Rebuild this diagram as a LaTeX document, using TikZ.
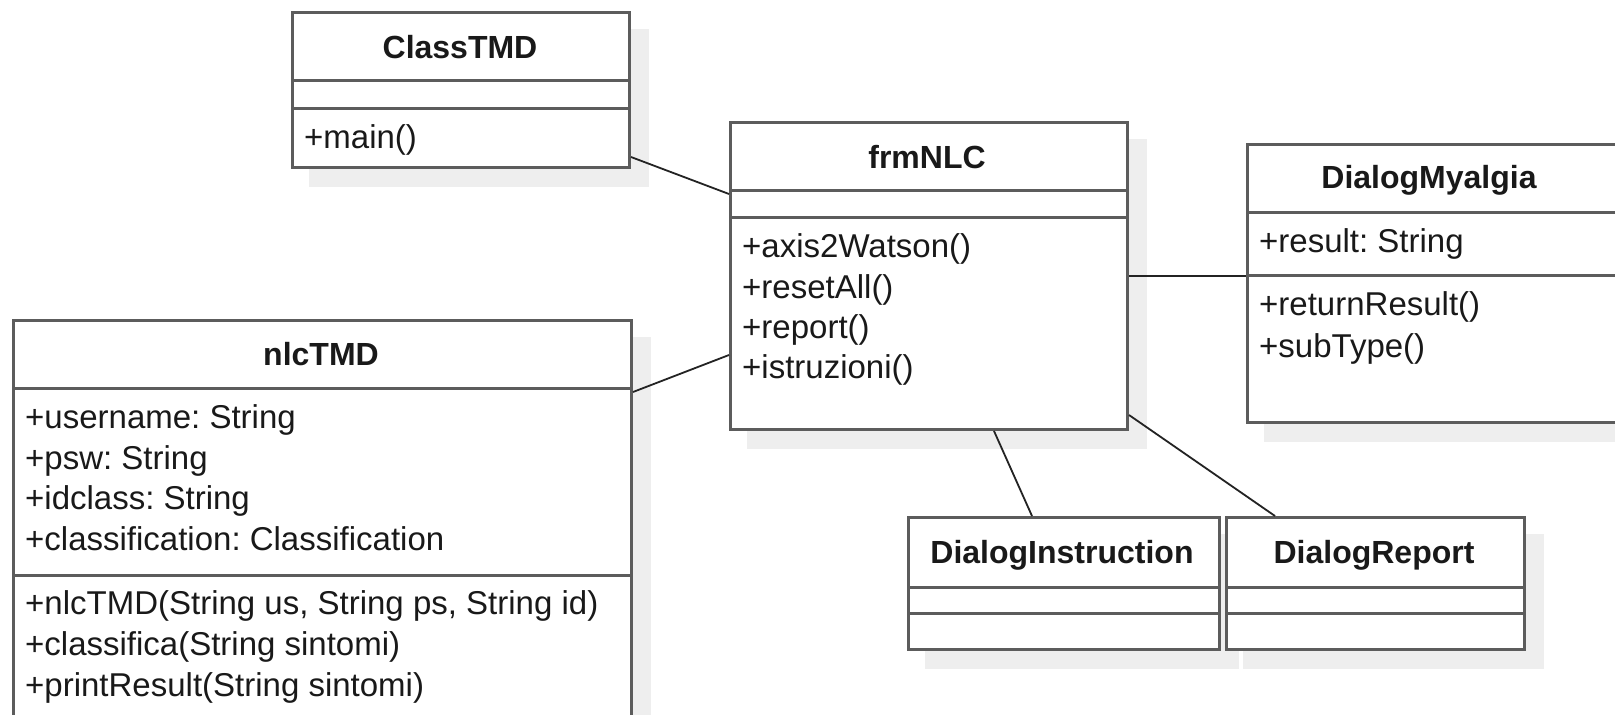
\documentclass[tikz,border=0pt]{standalone}
\usepackage{fontspec}
\setmainfont{Liberation Sans}
\usetikzlibrary{calc,backgrounds}
\definecolor{edgecol}{RGB}{92,92,92}
\definecolor{shadecol}{RGB}{238,238,238}
\definecolor{linkcol}{RGB}{35,35,35}
\tikzset{
  umlbox/.style={draw=edgecol,line width=3pt,fill=white,rectangle,inner sep=0pt,anchor=north west},
  sepline/.style={draw=edgecol,line width=3pt},
  umltitle/.style={font=\fontsize{32}{40}\selectfont\bfseries,inner sep=0pt,anchor=base,text=black!90},
  member/.style={font=\fontsize{33}{40}\selectfont\frenchspacing,inner sep=0pt,anchor=base west,text=black!90},
  link/.style={draw=linkcol,line width=1.8pt},
  shadowbox/.style={fill=shadecol}
}
\begin{document}
\begin{tikzpicture}[x=1pt,y=-1pt]
\clip (0,0) rectangle (1615,715);

% ---------- ClassTMD ----------
\node[umlbox,minimum width=337pt,minimum height=155pt] (cT) at (291,11) {};
\draw[sepline] (291,80) -- (628,80);
\draw[sepline] (291,108) -- (628,108);
\node[umltitle] (cTt) at (460,58) {ClassTMD};
\node[member] (cTm1) at (304,148) {+main()};

% ---------- frmNLC ----------
\node[umlbox,minimum width=397pt,minimum height=307pt] (frm) at (729,121) {};
\draw[sepline] (729,190) -- (1126,190);
\draw[sepline] (729,217) -- (1126,217);
\node[umltitle] (frmt) at (927,168) {frmNLC};
\node[member] (frm1) at (742,257) {+axis2Watson()};
\node[member] (frm2) at (742,298) {+resetAll()};
\node[member] (frm3) at (742,338) {+report()};
\node[member] (frm4) at (742,378) {+istruzioni()};

% ---------- DialogMyalgia ----------
\node[umlbox,minimum width=390pt,minimum height=278pt] (dm) at (1246,143) {};
\draw[sepline] (1246,212) -- (1640,212);
\draw[sepline] (1246,275) -- (1640,275);
\node[umltitle] (dmt) at (1429,188) {DialogMyalgia};
\node[member] (dm1) at (1259,252) {+result: String};
\node[member] (dm2) at (1259,315) {+returnResult()};
\node[member] (dm3) at (1259,357) {+subType()};

% ---------- nlcTMD ----------
\node[umlbox,minimum width=618pt,minimum height=420pt] (nlc) at (12,319) {};
\draw[sepline] (12,388) -- (630,388);
\draw[sepline] (12,575) -- (630,575);
\node[umltitle] (nlct) at (321,365) {nlcTMD};
\node[member] (nlc1) at (25,428) {+username: String};
\node[member] (nlc2) at (25,469) {+psw: String};
\node[member] (nlc3) at (25,509) {+idclass: String};
\node[member] (nlc4) at (25,550) {+classification: Classification};
\node[member] (nlc5) at (25,614) {+nlcTMD(String us, String ps, String id)};
\node[member] (nlc6) at (25,655) {+classifica(String sintomi)};
\node[member] (nlc7) at (25,696) {+printResult(String sintomi)};

% ---------- DialogInstruction ----------
\node[umlbox,minimum width=311pt,minimum height=132pt] (di) at (907,516) {};
\draw[sepline] (907,587) -- (1218,587);
\draw[sepline] (907,613) -- (1218,613);
\node[umltitle] (dit) at (1062,563) {DialogInstruction};

% ---------- DialogReport ----------
\node[umlbox,minimum width=298pt,minimum height=132pt] (dr) at (1225,516) {};
\draw[sepline] (1225,587) -- (1523,587);
\draw[sepline] (1225,613) -- (1523,613);
\node[umltitle] (drt) at (1374,563) {DialogReport};

% ---------- shadows ----------
\begin{scope}[on background layer]
\fill[white] (0,0) rectangle (1615,715);
\foreach \n in {cT,frm,dm,nlc,di,dr}{
  \fill[shadowbox] ([shift={(18,18)}]\n.north west) rectangle ([shift={(18,18)}]\n.south east);
}
\end{scope}

% ---------- connectors ----------
\draw[link] ([yshift=-146]cT.north east) -- ([yshift=-73]frm.north west);
\draw[link] ([yshift=-73]nlc.north east) -- ([yshift=-234]frm.north west);
\draw[link] ([yshift=-155]frm.north east) -- ([yshift=-133]dm.north west);
\draw[link] ([xshift=265]frm.south west) -- ([xshift=125]di.north west);
\draw[link] ([yshift=16]frm.south east) -- ([xshift=50]dr.north west);
\end{tikzpicture}
\end{document}
